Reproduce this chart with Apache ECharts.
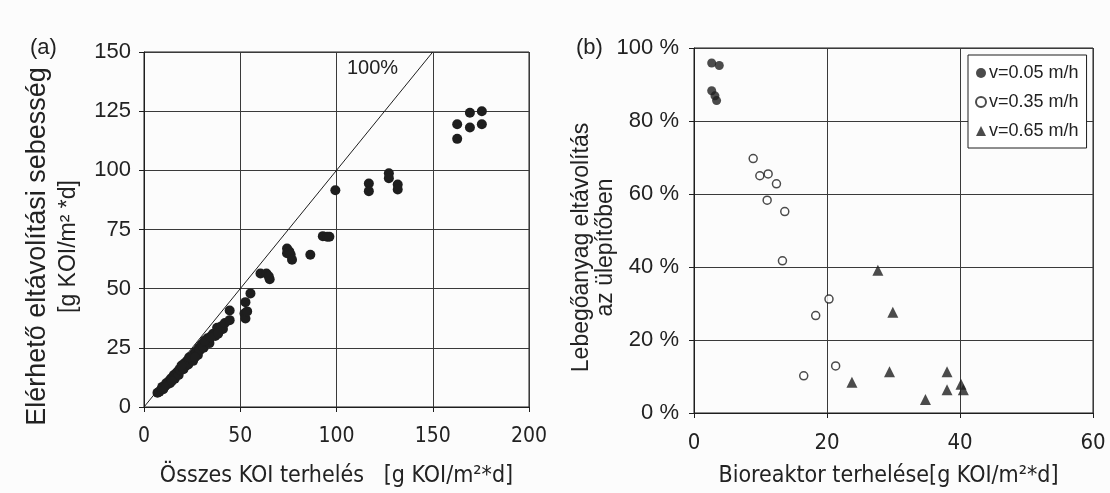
<!DOCTYPE html>
<html>
<head>
<meta charset="utf-8">
<script src="https://cdn.jsdelivr.net/npm/echarts@6/dist/echarts.min.js"></script>
<style>
  html, body { margin: 0; padding: 0; background: #fcfcfc; }
  #chart { width: 1110px; height: 493px; }
</style>
</head>
<body>
<div id="chart"></div>
<script>
// (a) összes KOI terhelés vs. elérhető eltávolítási sebesség
var pointsA = [
  [7, 6], [8, 6.5], [9, 7.5], [9.5, 8.5], [10, 7.5], [11, 9], [11.5, 10], [12, 9.5],
  [13, 11], [13.5, 10], [14, 12], [15, 12.5], [15.5, 13.5], [16, 12], [17, 14.5],
  [17.5, 15], [18, 13.5], [18.5, 16], [19, 15.5], [20, 17], [20.5, 16], [21, 18.5],
  [22, 17.5], [22.5, 19.5], [23, 18], [24, 20.5], [25, 21], [25.5, 19.5], [26, 22.5],
  [27, 23.5], [28, 22], [28.5, 25], [29, 24], [30, 26.5], [31, 25], [32, 27.5],
  [33, 29], [34, 27], [35, 30], [36, 31], [37, 30], [38, 33.5], [39, 32], [40, 34],
  [41, 33], [42, 35.5], [44.5, 40.8], [44.5, 36.7],
  [10.5, 8.5], [14.5, 11], [19.5, 17.5], [23.5, 21], [26.5, 21], [31.5, 28],
  [34.5, 29.5], [38.5, 31],
  [52.2, 39.5], [52.7, 37.4], [52.7, 44.3], [53.6, 40.4], [55.3, 48],
  [60.5, 56.4], [63.6, 56.4], [65.3, 54], [64.8, 55.2],
  [74.3, 67], [74.3, 65], [75.5, 65.7], [76.2, 64.3], [76.9, 62.2], [86.4, 64.3],
  [92.9, 72.2], [95.1, 71.9], [96.3, 71.9],
  [99.4, 91.6], [116.8, 94.4], [116.8, 91.2], [127.2, 98.8], [127.2, 96.7],
  [131.8, 94], [131.8, 91.9],
  [162.7, 113.3], [162.7, 119.5], [169.3, 118.1], [169.3, 124.3], [175.5, 125], [175.5, 119.5]
];
var diagonal = [[0, 0], [150, 150]];

// (b) bioreaktor terhelése vs. lebegőanyag eltávolítás
var legendNames = ['v=0.05 m/h', 'v=0.35 m/h', 'v=0.65 m/h'];
var v005 = [[2.66, 95.9], [3.8, 95.2], [2.66, 88.3], [3.15, 86.9], [3.4, 85.6]];
var v035 = [
  [8.9, 69.7], [9.9, 65], [11.15, 65.5], [12.4, 62.8], [11, 58.3], [13.65, 55.2],
  [13.3, 41.7], [20.3, 31.2], [18.3, 26.7], [21.3, 12.9], [16.5, 10.2]
];
var v065 = [
  [27.65, 39.1], [29.9, 27.6], [29.4, 11.3], [23.75, 8.4], [38.05, 11.3],
  [38.05, 6.4], [34.8, 3.7], [40.15, 7.9], [40.5, 6.4]
];

var ink = '#1e1e1e';
var gridCol = '#3a3a3a';
var regular = "'Liberation Sans', Arial, sans-serif";
var narrow = "'Liberation Sans Narrow', 'DejaVu Sans Condensed', sans-serif";

function valueAxis(opt) {
  var base = {
    type: 'value',
    axisLine: { show: true, lineStyle: { color: ink, width: 1 } },
    axisTick: { show: true, length: 5, lineStyle: { color: ink } },
    splitLine: { show: true, lineStyle: { color: gridCol, width: 1 } },
    axisLabel: { color: '#222', fontFamily: regular, fontSize: 22 },
    nameTextStyle: { color: '#222', fontFamily: regular, fontSize: 22 },
    nameMoveOverlap: false
  };
  for (var k in opt) {
    if (typeof opt[k] === 'object' && base[k] && !Array.isArray(opt[k])) {
      for (var j in opt[k]) base[k][j] = opt[k][j];
    } else {
      base[k] = opt[k];
    }
  }
  return base;
}

var myChart = echarts.init(document.getElementById('chart'), null, { renderer: 'canvas' });
var option = {
  backgroundColor: '#fcfcfc',
  animation: false,
  grid: [
    { left: 144, top: 52, width: 385, height: 362, show: true, borderColor: ink, borderWidth: 1, backgroundColor: 'transparent' },
    { left: 694, top: 48, width: 399, height: 372, show: true, borderColor: ink, borderWidth: 1, backgroundColor: 'transparent' }
  ],
  xAxis: [
    valueAxis({
      gridIndex: 0, min: 0, max: 200, interval: 50,
      axisLabel: { fontFamily: narrow, fontSize: 21, margin: 19 },
      name: 'Összes KOI terhelés   [g KOI/m²*d]',
      nameLocation: 'middle', nameGap: 58,
      nameTextStyle: { fontFamily: narrow, fontSize: 23 }
    }),
    valueAxis({
      gridIndex: 1, min: 0, max: 60, interval: 20,
      axisLabel: { fontFamily: narrow, fontSize: 22, margin: 19 },
      name: 'Bioreaktor terhelése[g KOI/m²*d]',
      nameLocation: 'middle', nameGap: 52,
      nameTextStyle: { fontFamily: narrow, fontSize: 23, padding: [0, 10, 0, 0] }
    })
  ],
  yAxis: [
    valueAxis({
      gridIndex: 0, min: 0, max: 150, interval: 25,
      axisLabel: { margin: 13 },
      name: '{a|Elérhető eltávolítási sebesség}\n{b|[g KOI/m² *d]}',
      nameLocation: 'middle', nameRotate: 90, nameGap: 60,
      nameTextStyle: {
        padding: [0, 34, 0, 0],
        rich: {
          a: { fontFamily: regular, fontSize: 27, lineHeight: 31, color: '#222' },
          b: { fontFamily: regular, fontSize: 23, lineHeight: 31, color: '#222' }
        }
      }
    }),
    valueAxis({
      gridIndex: 1, min: 0, max: 100, interval: 20,
      axisLabel: { margin: 15, formatter: function (v) { return v + ' %'; } },
      name: 'Lebegőanyag eltávolítás\naz ülepítőben',
      nameLocation: 'middle', nameRotate: 90, nameGap: 76,
      nameTextStyle: { fontSize: 23, lineHeight: 24, padding: [0, 34, 0, 0] }
    })
  ],
  legend: {
    data: legendNames,
    orient: 'vertical',
    left: 968, top: 55,
    width: 116,
    padding: [9, 8, 8, 7],
    itemGap: 11,
    itemWidth: 10, itemHeight: 10,
    backgroundColor: '#fff',
    borderColor: ink, borderWidth: 1, borderRadius: 0,
    textStyle: { color: '#222', fontFamily: regular, fontSize: 18, padding: [0, 0, 0, -2] }
  },
  graphic: [
    { type: 'text', left: 30, top: 37, style: { text: '(a)', font: '22px ' + regular, fill: '#222' } },
    { type: 'text', left: 576, top: 37, style: { text: '(b)', font: '22px ' + regular, fill: '#222' } }
  ],
  series: [
    {
      type: 'line', xAxisIndex: 0, yAxisIndex: 0,
      data: diagonal, symbol: 'none', silent: true,
      lineStyle: { color: ink, width: 1 },
      markPoint: {
        symbolSize: 0,
        data: [{ coord: [118.7, 143.2], value: '100%' }],
        label: { show: true, formatter: '100%', color: '#222', fontFamily: regular, fontSize: 20 }
      }
    },
    {
      type: 'scatter', xAxisIndex: 0, yAxisIndex: 0,
      data: pointsA, symbol: 'circle', symbolSize: 10,
      itemStyle: { color: ink, opacity: 1 }
    },
    {
      name: legendNames[0], type: 'scatter', xAxisIndex: 1, yAxisIndex: 1,
      data: v005, symbol: 'circle', symbolSize: 9,
      itemStyle: { color: ink }
    },
    {
      name: legendNames[1], type: 'scatter', xAxisIndex: 1, yAxisIndex: 1,
      data: v035, symbol: 'circle', symbolSize: 8,
      itemStyle: { color: '#fff', borderColor: ink, borderWidth: 1.5 }
    },
    {
      name: legendNames[2], type: 'scatter', xAxisIndex: 1, yAxisIndex: 1,
      data: v065, symbol: 'triangle', symbolSize: 11,
      itemStyle: { color: ink }
    }
  ]
};
myChart.setOption(option);
</script>
</body>
</html>
